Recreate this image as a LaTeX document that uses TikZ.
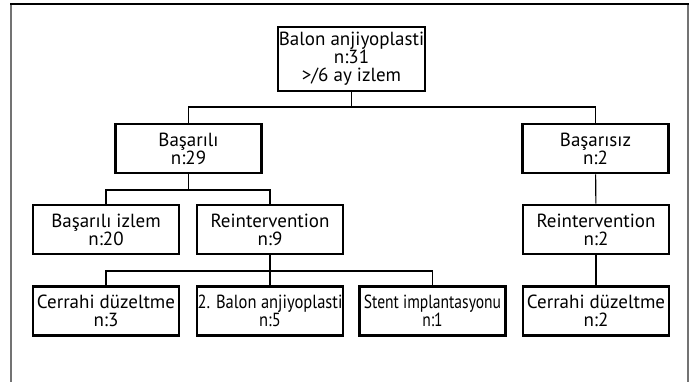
\documentclass[tikz,border=0pt]{standalone}
\usepackage{fontspec}
\setmainfont{PT Sans}
\newfontfamily\narrowfont{PT Sans}[FakeStretch=0.87]
\newfontfamily\narrowerfont{PT Sans}[FakeStretch=0.82]
\begin{document}
\begin{tikzpicture}[x=1pt,y=-1pt,
  box/.style={draw=black,line width=2.8pt,minimum width=146pt,minimum height=49pt,inner sep=0pt,align=center,font=\fontsize{19}{18}\selectfont},
  narrowbox/.style={box,font=\narrowfont\fontsize{19}{18}\selectfont},
  narrowerbox/.style={box,font=\narrowerfont\fontsize{19}{18}\selectfont},
  conn/.style={draw=black,line width=1.1pt},
  frameside/.style={draw=black!55,line width=1.2pt}]
\useasboundingbox (0,0) rectangle (696,382);
\draw[frameside] (11,382) -- (11,4);
\draw[frameside] (688,4) -- (688,382);
\draw[black,line width=1.2pt] (10.4,4) -- (688.6,4);
\node[box,minimum width=147pt,minimum height=64pt] (root) at (351.5,59) {Balon anjiyoplasti\\n:31\\>/6 ay izlem};
\node[box] (bas) at (188.5,148.5) {Başarılı\\n:29};
\node[box] (basz) at (595.5,148.5) {Başarısız\\n:2};
\node[box] (izlem) at (106,229.5) {Başarılı izlem\\n:20};
\node[box] (rein9) at (270,229.5) {Reintervention\\n:9};
\node[box] (rein2) at (596,229.5) {Reintervention\\n:2};
\node[box] (cer3) at (106,311) {Cerrahi düzeltme\\n:3};
\node[narrowbox] (bal2) at (270,311) {2. Balon anjiyoplasti\\n:5};
\node[narrowerbox] (stent) at (432.5,311) {Stent implantasyonu\\n:1};
\node[box] (cer2) at (596,311) {Cerrahi düzeltme\\n:2};
\coordinate (b1) at (351.5,107);
\coordinate (b2) at (188.5,190);
\coordinate (b3) at (270,271);
\draw[conn] (root.south) -- (b1);
\draw[conn] (b1) -| (bas.north);
\draw[conn] (b1) -| (basz.north);
\draw[conn] (bas.south) -- (b2);
\draw[conn] (b2) -| (izlem.north);
\draw[conn] (b2) -| (rein9.north);
\draw[conn] (basz) -- (rein2);
\draw[conn] (rein9.south) -- (b3);
\draw[conn] (b3) -| (cer3.north);
\draw[conn] (b3) -- (bal2.north);
\draw[conn] (b3) -| (stent.north);
\draw[conn] (rein2) -- (cer2);
\end{tikzpicture}
\end{document}
